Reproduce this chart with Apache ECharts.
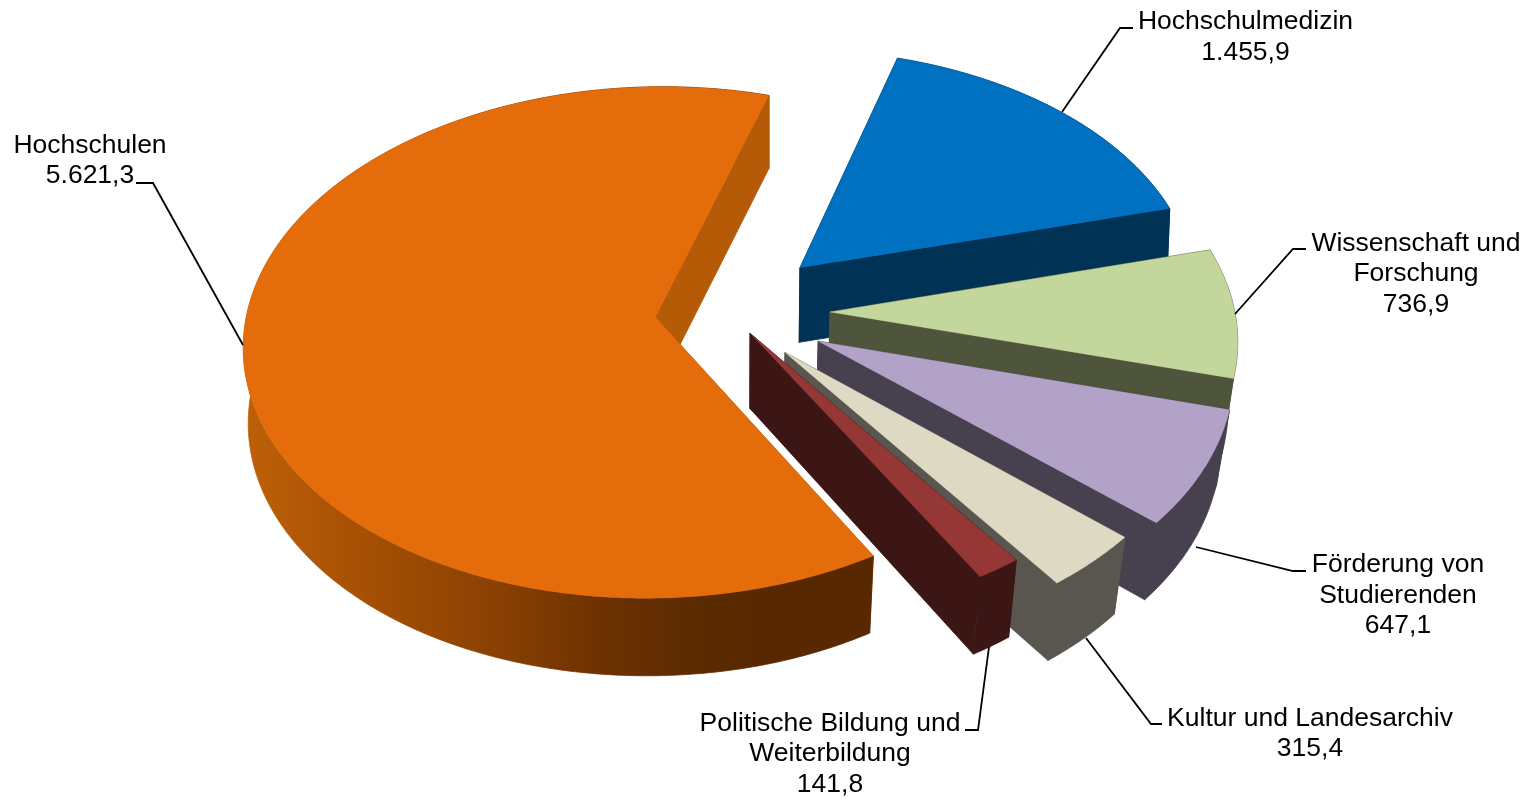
<!DOCTYPE html>
<html><head><meta charset="utf-8">
<style>html,body{margin:0;padding:0;background:#fff}#c{width:1537px;height:799px}</style>
<script src="https://cdn.jsdelivr.net/npm/echarts@6/dist/echarts.min.js"></script></head>
<body><div id="c"></div>
<script>
// Data
const names = ['Hochschulen','Hochschulmedizin','Wissenschaft und\nForschung','Förderung von\nStudierenden','Kultur und Landesarchiv','Politische Bildung und\nWeiterbildung'];
const values = [5621.3,1455.9,736.9,647.1,315.4,141.8];
// Styles
const topColors = ['#E46C0A','#0070C0','#C3D69B','#B2A2C7','#DDD9C3','#953735'];
const sideColors = ['#B55A06','#003256','#4F553C','#47404F','#58564E','#3B1615'];
// Explosion of each slice, in disk radii, its bearing in degrees, and a radius correction
const explodeDist = [0.216,0.225,0.213,0.217,0.191,0.089];
const explodeBearing = [-173.6,50.9,-1,-33,-58,-79];
const radiusScale = [1,0.98,0.992,1.0,1.007,1.006];
// Label layout
const labelX = [90,1245.5,1416,1398,1310,830];
const labelY = [160.5,37,274,595.5,733.5,754];
const leaderLines = [
  [[243,345],[153,183],[136,183]],
  [[1062,112],[1120,28],[1133,28]],
  [[1235,314],[1293,249],[1306,249]],
  [[1196,547],[1293,571],[1306,571]],
  [[1086,638],[1151,724],[1162,724]],
  [[989,647],[978,730],[965,730]]
];
// Projection of the tilted disk
const startAngle = -59.6, cx = 743, cy = 311, R = 408, A = 252, K = 0.099;
const total = values.reduce((s,v)=>s+v,0);
const fmt = v => { const p = v.toFixed(1).split('.'); return p[0].replace(/\B(?=(\d{3})+$)/g,'.')+','+p[1]; };
const toRad = d => d*Math.PI/180;
const proj = (u,v) => { const w = 1+K*v; return [cx+R*u/w, cy-A*v/w]; };
const drop = p => {
  const f = p[0]>cx ? Math.min(0.028,Math.max(0,0.007+0.0001*(p[1]-210))) : (p[1]>200?0.01:0);
  return [p[0]-(p[0]-cx)*f, cy+(p[1]-cy)*1.009+75];
};

const wallGradient = new echarts.graphic.LinearGradient(243,0,760,0,[
  {offset:0,color:'#BE6008'},{offset:0.2,color:'#A95204'},{offset:0.45,color:'#8F4303'},
  {offset:0.7,color:'#6C3101'},{offset:0.9,color:'#5A2A01'},{offset:1,color:'#582800'}],true);

function renderSlice(params, api){
  const i = params.dataIndex, val = api.value(0);
  let before = 0; for(let j=0;j<i;j++) before += values[j];
  const a0 = startAngle - before/total*360, a1 = a0 - val/total*360;
  const ou = explodeDist[i]*Math.cos(toRad(explodeBearing[i]));
  const ov = explodeDist[i]*Math.sin(toRad(explodeBearing[i]));
  const r = radiusScale[i];
  const apex = proj(ou,ov), arc = [];
  const n = Math.max(12,Math.round(Math.abs(a1-a0)*2));
  for(let s=0;s<=n;s++){ const t = toRad(a0+(a1-a0)*s/n); arc.push(proj(ou+r*Math.cos(t),ov+r*Math.sin(t))); }
  const poly = (pts,fill,lw)=>({type:'polygon',shape:{points:pts},style:{fill:fill,stroke:fill,lineWidth:lw,lineJoin:'round'},silent:true});
  const side = sideColors[i];
  const end0 = arc[0], end1 = arc[arc.length-1];
  const ch = [
    poly([apex,end0,drop(end0),drop(apex)],side,0.8),
    poly(arc.concat(arc.map(drop).reverse()), i===0?wallGradient:side,0.8),
    poly([apex,end1,drop(end1),drop(apex)],side,0.8),
    poly([apex].concat(arc),topColors[i],0.3)
  ];
  return {type:'group',children:ch};
}
function renderLabel(params, api){
  const i = params.dataIndex;
  return {type:'group',children:[
    {type:'polyline',shape:{points:leaderLines[i]},style:{stroke:'#000',lineWidth:1.8,fill:null},silent:true},
    {type:'text',x:labelX[i],y:labelY[i],silent:true,style:{
      text:names[i]+'\n'+fmt(api.value(0)),fill:'#000',align:'center',verticalAlign:'middle',
      textAlign:'center',textVerticalAlign:'middle',lineHeight:30.5,
      font:'26.5px "Liberation Sans", Arial, sans-serif'}}
  ]};
}
const chart = echarts.init(document.getElementById('c'),null,{renderer:'canvas'});
chart.setOption({
  animation:false,backgroundColor:'#fff',
  series:[
    {type:'custom',coordinateSystem:'none',renderItem:renderSlice,data:values.map(v=>[v]),z:1,silent:true},
    {type:'custom',coordinateSystem:'none',renderItem:renderLabel,data:values.map(v=>[v]),z:2,silent:true}
  ]
});
</script></body></html>
